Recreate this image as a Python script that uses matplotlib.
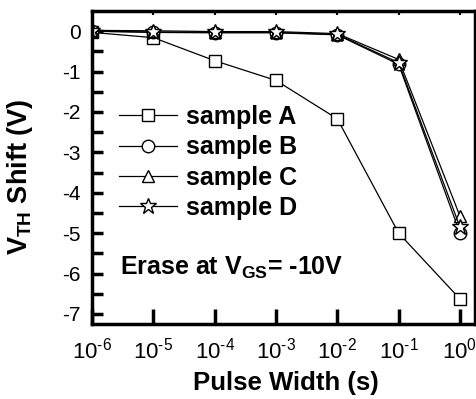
import matplotlib
matplotlib.use("Agg")
import matplotlib.pyplot as plt
import numpy as np

plt.rcParams['font.family'] = ['Liberation Sans', 'DejaVu Sans']
plt.rcParams['mathtext.fontset'] = 'custom'
plt.rcParams['mathtext.rm'] = 'Liberation Sans'
plt.rcParams['mathtext.bf'] = 'Liberation Sans:bold'
plt.rcParams['axes.unicode_minus'] = False

# pulse width (s)
pulse = [1e-6, 1e-5, 1e-4, 1e-3, 1e-2, 1e-1, 1e0]
xtick_labels = [r'$\mathregular{10^{\text{-6}}}$', r'$\mathregular{10^{\text{-5}}}$',
                r'$\mathregular{10^{\text{-4}}}$', r'$\mathregular{10^{\text{-3}}}$',
                r'$\mathregular{10^{\text{-2}}}$', r'$\mathregular{10^{\text{-1}}}$',
                r'$\mathregular{10^{0}}$']
# VTH shift (V)
sample_a = [-0.03, -0.16, -0.73, -1.22, -2.17, -5.0, -6.63]
sample_b = [0.0, -0.03, -0.04, -0.04, -0.09, -0.82, -5.0]
sample_c = [0.02, 0.01, -0.01, -0.01, -0.06, -0.7, -4.58]
sample_d = [0.0, -0.02, -0.03, -0.03, -0.08, -0.78, -4.85]

labels = ['sample A', 'sample B', 'sample C', 'sample D']
markers = ['s', 'o', '^', '*']


def main():
    fig = plt.figure(figsize=(4.76, 3.99), dpi=100)
    ax = fig.add_axes([92 / 476, 75 / 399, 383 / 476, 313 / 399])

    series = [sample_a, sample_b, sample_c, sample_d]
    for ys, lab, mk in zip(series, labels, markers):
        ms = 12 if mk == '*' else 9
        ax.plot(pulse, ys, color='black', lw=0.9, marker=mk, ms=ms,
                mfc='white', mec='black', mew=1.0, label=lab)

    ax.set_xscale('log')
    ax.set_xlim(1e-6, 10 ** 0.245)
    ax.set_ylim(-7.25, 0.5)
    ax.set_xticks(pulse)
    ax.set_xticklabels(xtick_labels)
    ax.xaxis.set_minor_locator(matplotlib.ticker.NullLocator())
    ax.set_yticks(np.arange(-7, 1, 1))
    ax.set_yticks(np.arange(-7, 0.5, 0.5), minor=True)
    ax.set_yticklabels([str(v) for v in range(-7, 1)])

    for s in ax.spines.values():
        s.set_linewidth(2.5)
    ax.tick_params(axis='x', which='major', direction='in', length=11,
                   width=2.5, labelsize=16, pad=10)
    ax.tick_params(axis='x', which='major', top=True)
    for t in ax.xaxis.get_major_ticks():
        t.tick2line.set_markersize(3)
        t.tick2line.set_markeredgewidth(1.5)
    ax.tick_params(axis='y', which='both', direction='in', length=8,
                   width=2.5, labelsize=15, pad=8)

    ax.set_xlabel('Pulse Width (s)', fontsize=18.5, fontweight='bold')
    ax.xaxis.set_label_coords(0.505, -0.15)
    ax.set_ylabel(r'$\mathbf{V_{TH}}$ Shift (V)', fontsize=19.5,
                  fontweight='bold')
    ax.yaxis.set_label_coords(-0.15, 0.47)

    ax.text(0.073, 0.18, r'Erase at $\mathbf{V_{GS}}$= -10V', transform=ax.transAxes,
            fontsize=18, fontweight='bold', va='center')

    ax.legend(loc='center left', bbox_to_anchor=(0.07, 0.516), frameon=False,
              prop={'size': 18, 'weight': 'bold'}, handlelength=2.32,
              handletextpad=0.36, labelspacing=0.25, borderpad=0,
              borderaxespad=0)

    fig.savefig('out.png', dpi=100)


if __name__ == '__main__':
    main()
